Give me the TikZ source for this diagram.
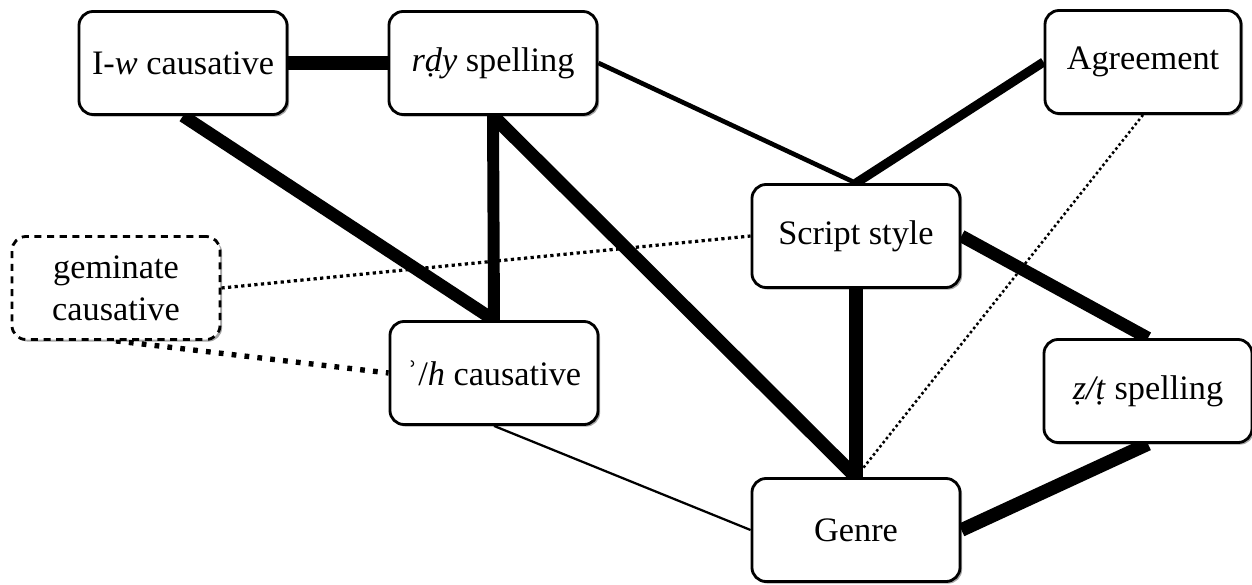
\documentclass[tikz,border=0pt]{standalone}
\usepackage{fontspec}
\setmainfont{Liberation Serif}
\usetikzlibrary{shadows,backgrounds}
\begin{document}
\begin{tikzpicture}[x=0.025cm,y=-0.025cm,
  box/.style={draw, line width=2pt, rounded corners=10pt, fill=white,
    minimum width=5.2cm, minimum height=2.575cm, inner sep=0pt, align=center,
    font=\fontsize{24.4}{30}\selectfont,
    drop shadow={shadow xshift=1.5pt, shadow yshift=-1.5pt, fill=black, opacity=0.35}},
  dbox/.style={box, dash pattern=on 5pt off 4pt},
  edge/.style={line width=#1, line cap=butt}
]
\useasboundingbox (0,0) rectangle (1252,585);
\node[box] (iw) at (183,63) {I-\textit{w} causative};
\node[box] (rdy) at (493,63) {\textit{rḍy} spelling};
\node[box, minimum width=4.9cm] (agr) at (1143,62) {Agreement};
\node[box] (scr) at (856,236) {Script style};
\node[dbox] (gem) at (116,288) {geminate\\causative};
\node[box] (ah) at (494,373) {ʾ/\textit{h} causative};
\node[box] (zt) at (1148,391) {\textit{ẓ/ṭ} spelling};
\node[box] (gen) at (856,530) {Genre};
\begin{pgfonlayer}{background}
\draw[edge=10.5pt] (iw.east) -- (rdy.west);
\draw[edge=9pt] (iw.south) -- (ah.north);
\draw[edge=8.5pt] (rdy.south) -- (ah.north);
\draw[edge=9.5pt] (rdy.south) -- (gen.north);
\draw[edge=3.3pt] (rdy.east) -- (scr.north);
\draw[edge=6.5pt] (agr.west) -- (scr.north);
\draw[line width=1.8pt, dash pattern=on 1.8pt off 1.9pt] (agr.south) -- (gen.north);
\draw[line width=2.3pt, dash pattern=on 2.3pt off 2.4pt] (gem.east) -- (scr.west);
\draw[line width=3.8pt, dash pattern=on 3.4pt off 5.8pt] (gem.south) -- (ah.west);
\draw[edge=9pt] (scr.east) -- (zt.north);
\draw[edge=9.5pt] (scr.south) -- (gen.north);
\draw[edge=1.6pt] (ah.south) -- (gen.west);
\draw[edge=9.7pt] (gen.east) -- (zt.south);
\end{pgfonlayer}
\end{tikzpicture}
\end{document}
